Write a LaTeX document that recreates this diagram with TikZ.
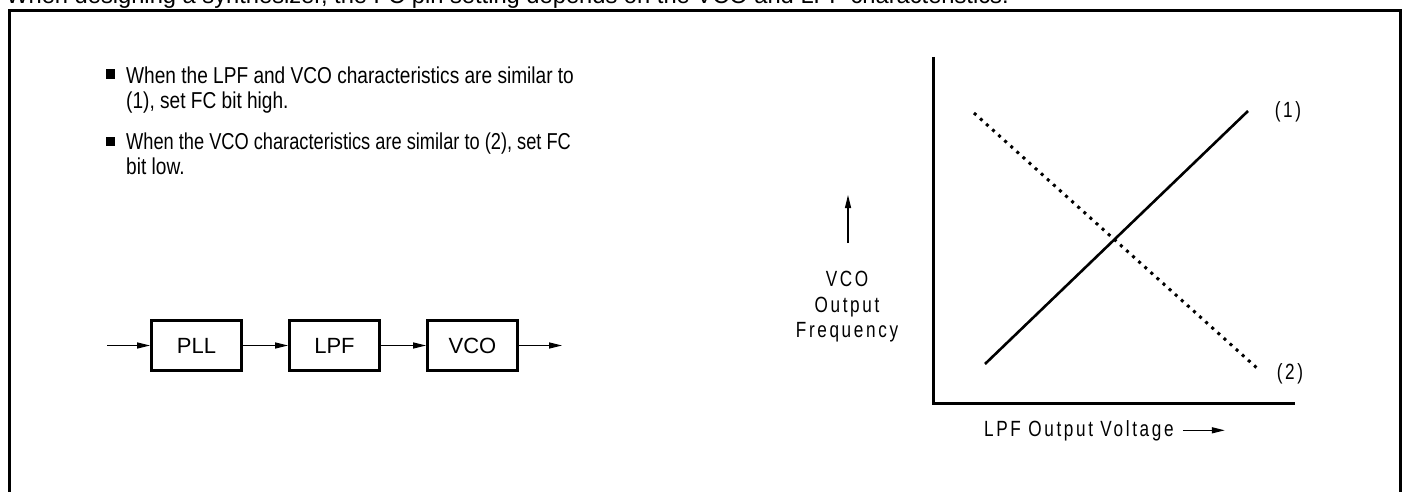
\documentclass[tikz,border=0pt]{standalone}
\usepackage{graphicx}
\usepackage{fontspec}
\setmainfont{Liberation Sans}
\newfontfamily\bodyfont[FakeStretch=0.83]{Liberation Sans}
\newfontfamily\plotfont[FakeStretch=0.78,LetterSpace=12]{Liberation Sans}
\usetikzlibrary{arrows.meta, positioning}

\tikzset{
  blockbox/.style={rectangle, draw=black, line width=3pt, minimum width=90pt,
                   minimum height=50pt, inner sep=0pt,
                   font=\fontsize{22}{26}\selectfont},
  flow/.style={-{Triangle[length=13pt,width=6pt]}, line width=1.3pt},
  axisline/.style={line width=3pt},
  curveone/.style={line width=2.6pt},
  curvetwo/.style={line width=3pt, dash pattern=on 3pt off 5.2pt},
  bodytext/.style={anchor=base west, inner sep=0pt, align=left,
                   font=\bodyfont\fontsize{23}{25}\selectfont},
  plotlabel/.style={inner sep=0pt, align=center,
                    font=\plotfont\fontsize{22}{25.5}\selectfont},
  bulletsq/.style={rectangle, fill=black, minimum size=9.5pt, inner sep=0pt}
}

\begin{document}
\begin{tikzpicture}[x=1pt, y=-1pt, node distance=45pt]
  \useasboundingbox (0,0) rectangle (1406,492);
  \clip (0,0) rectangle (1406,492);

  % ── caption cut by the page ──
  \node[anchor=base west, inner sep=0pt, font=\fontsize{23.7}{28}\selectfont] (intro) at (6,4)
      {When designing a synthesizer, the FC pin setting depends on the VCO and LPF characteristics.};

  % ── frame ──
  \draw[line width=3pt] (9,520) -- (9,11) -- (1400,11) -- (1400,520);

  % ── notes (base = last line) ──
  \node[bulletsq] (sq1) at (110.5,74) {};
  \node[bodytext] (item1) at (126,109)
      {When the LPF and VCO characteristics are similar to\\(1), set FC bit high.};
  \node[bulletsq] (sq2) at (110.5,141.5) {};
  \node[bodytext] (item2) at (126,175)
      {\scalebox{0.955}[1]{When the VCO characteristics are similar to (2), set FC}\\bit low.};

  % ── block chain ──
  \node[blockbox] (pll) at (196.5,345.5) {PLL};
  \node[blockbox, right=of pll] (lpf) {LPF};
  \node[blockbox, right=of lpf] (vco) {VCO};
  \coordinate (pin) at (107,345.5);
  \coordinate (pout) at (562,345.5);

  \draw[flow] (pin) -- (pll.west);
  \draw[flow] (pll.east) -- (lpf.west);
  \draw[flow] (lpf.east) -- (vco.west);
  \draw[flow] (vco.east) -- (pout);

  % ── characteristic plot ──
  \coordinate (ytop) at (933,57);
  \coordinate (orig) at (933,403);
  \coordinate (xend) at (1295,403);
  \draw[axisline] (ytop) -- (orig) -- (xend);

  \coordinate (c1a) at (985,364);
  \coordinate (c1b) at (1248,111);
  \coordinate (c2a) at (974,113);
  \coordinate (c2b) at (1258,369);
  \draw[curveone] (c1a) -- (c1b);
  \draw[curvetwo] (c2a) -- (c2b);

  \node[plotlabel] (lab1) at (1288,112) {(1)};
  \node[plotlabel] (lab2) at (1290,374) {(2)};

  \node[plotlabel] (ylab) at (847,307) {VCO\\Output\\Frequency};
  \coordinate (ya) at (848,243);
  \coordinate (yb) at (848,195);
  \draw[flow] (ya) -- (yb);

  \node[plotlabel, anchor=base west] (xlab) at (984,436) {LPF Output Voltage};
  \draw[flow] ([xshift=9pt]xlab.east) -- ++(42,0);

\end{tikzpicture}
\end{document}
